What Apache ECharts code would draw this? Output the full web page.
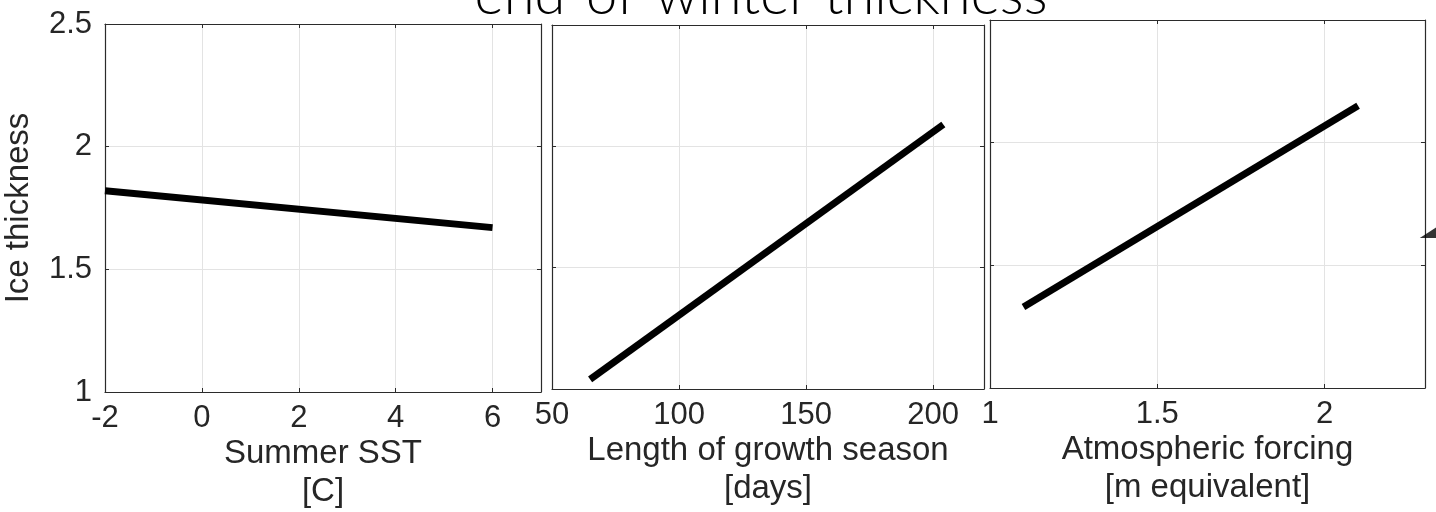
<!DOCTYPE html>
<html>
<head>
<meta charset="utf-8">
<script src="https://cdn.jsdelivr.net/npm/echarts@6/dist/echarts.min.js"></script>
<style>
html,body{margin:0;padding:0;background:#fff;}
#chart{width:1436px;height:512px;}
</style>
</head>
<body>
<div id="chart"></div>
<script>
// ---- data ----
const titleText = 'end-of-winter thickness';
const yAxisName = 'Ice thickness';
const xNames = ['Summer SST\n[C]', 'Length of growth season\n[days]', 'Atmospheric forcing\n[m equivalent]'];

const sstX = [-2, 6];
const sstY = [1.82, 1.67];
const daysX = [65, 204];
const daysY = [1.04, 2.09];
const forcingX = [1.10, 2.10];
const forcingY = [1.33, 2.15];
const markerX = [2.395];
const markerY = [1.66];

const xMins = [-2, 50, 1];
const xMaxs = [7, 220, 2.3];
const xIntervals = [2, 50, 0.5];
const yMin = 1, yMax = 2.5, yInterval = 0.5;

// ---- layout ----
const grids = [
  {left: 105, top: 24, width: 436, height: 368},
  {left: 552, top: 25, width: 432, height: 364},
  {left: 990, top: 20, width: 435, height: 368}
];
const FONT = 'Liberation Sans, Arial, Helvetica, sans-serif';
const TITLE_FONT = 'Lato, Liberation Sans, sans-serif';
const TXT = '#262626';
const AX = '#2b2b2b';
const GRIDC = '#e3e3e3';

// fit title font to target width
const cv = document.createElement('canvas').getContext('2d');
cv.font = '300 56px ' + TITLE_FONT;
const titleSize = Math.round(56 * 578 / cv.measureText(titleText).width);

const xAxes = [], yAxes = [];
for (let i = 0; i < 3; i++) {
  xAxes.push({
    type: 'value', gridIndex: i, position: 'bottom',
    min: xMins[i], max: xMaxs[i], interval: xIntervals[i],
    name: xNames[i], nameLocation: 'middle', nameGap: 43, nameMoveOverlap: false,
    nameTextStyle: {fontFamily: FONT, fontSize: 33, color: TXT, lineHeight: 38},
    axisLine: {show: true, onZero: false, lineStyle: {color: AX, width: 1.2}},
    axisTick: {show: true, inside: true, length: 4, lineStyle: {color: AX}},
    axisLabel: {show: true, fontFamily: FONT, fontSize: 31, color: TXT, margin: 11, showMaxLabel: false, showMinLabel: true},
    splitLine: {show: true, lineStyle: {color: GRIDC, width: 1}}
  });
  xAxes.push({
    type: 'value', gridIndex: i, position: 'top',
    min: xMins[i], max: xMaxs[i], interval: xIntervals[i],
    axisLine: {show: true, onZero: false, lineStyle: {color: AX, width: 1.2}},
    axisTick: {show: true, inside: true, length: 4, lineStyle: {color: AX}},
    axisLabel: {show: false},
    splitLine: {show: false}
  });
  yAxes.push({
    type: 'value', gridIndex: i, position: 'left',
    min: yMin, max: yMax, interval: yInterval,
    name: i === 0 ? yAxisName : '', nameLocation: 'middle', nameGap: 70, nameMoveOverlap: false,
    nameTextStyle: {fontFamily: FONT, fontSize: 33, color: TXT},
    axisLine: {show: true, onZero: false, lineStyle: {color: AX, width: 1.2}},
    axisTick: {show: true, inside: true, length: 4, lineStyle: {color: AX}},
    axisLabel: {show: i === 0, fontFamily: FONT, fontSize: 31, color: TXT, margin: 13},
    splitLine: {show: true, lineStyle: {color: GRIDC, width: 1}}
  });
  yAxes.push({
    type: 'value', gridIndex: i, position: 'right',
    min: yMin, max: yMax, interval: yInterval,
    axisLine: {show: true, onZero: false, lineStyle: {color: AX, width: 1.2}},
    axisTick: {show: true, inside: true, length: 4, lineStyle: {color: AX}},
    axisLabel: {show: false},
    splitLine: {show: false}
  });
}

function pairs(xs, ys) { return xs.map((x, k) => [x, ys[k]]); }
const lineStyle = {color: '#000', width: 7, cap: 'butt'};
const series = [
  {type: 'line', xAxisIndex: 0, yAxisIndex: 0, data: pairs(sstX, sstY), showSymbol: false, lineStyle, animation: false},
  {type: 'line', xAxisIndex: 2, yAxisIndex: 2, data: pairs(daysX, daysY), showSymbol: false, lineStyle, animation: false},
  {type: 'line', xAxisIndex: 4, yAxisIndex: 4, data: pairs(forcingX, forcingY), showSymbol: false, lineStyle, animation: false},
  {type: 'scatter', xAxisIndex: 4, yAxisIndex: 4, data: pairs(markerX, markerY), symbol: 'triangle', symbolSize: [74, 24],
   itemStyle: {color: '#000'}, clip: false, animation: false, z: 10}
];

const chart = echarts.init(document.getElementById('chart'), null, {renderer: 'canvas'});
chart.setOption({
  animation: false,
  backgroundColor: '#fff',
  grid: grids.map(g => Object.assign({containLabel: false, outerBoundsMode: 'none'}, g)),
  xAxis: xAxes,
  yAxis: yAxes,
  series: series,
  graphic: [{
    type: 'text', x: 761, y: 24, z: 100,
    style: {text: titleText, fontFamily: TITLE_FONT, fontWeight: 300, fontSize: titleSize, fill: '#000', align: 'center', verticalAlign: 'bottom'}
  }]
});
</script>
</body>
</html>
